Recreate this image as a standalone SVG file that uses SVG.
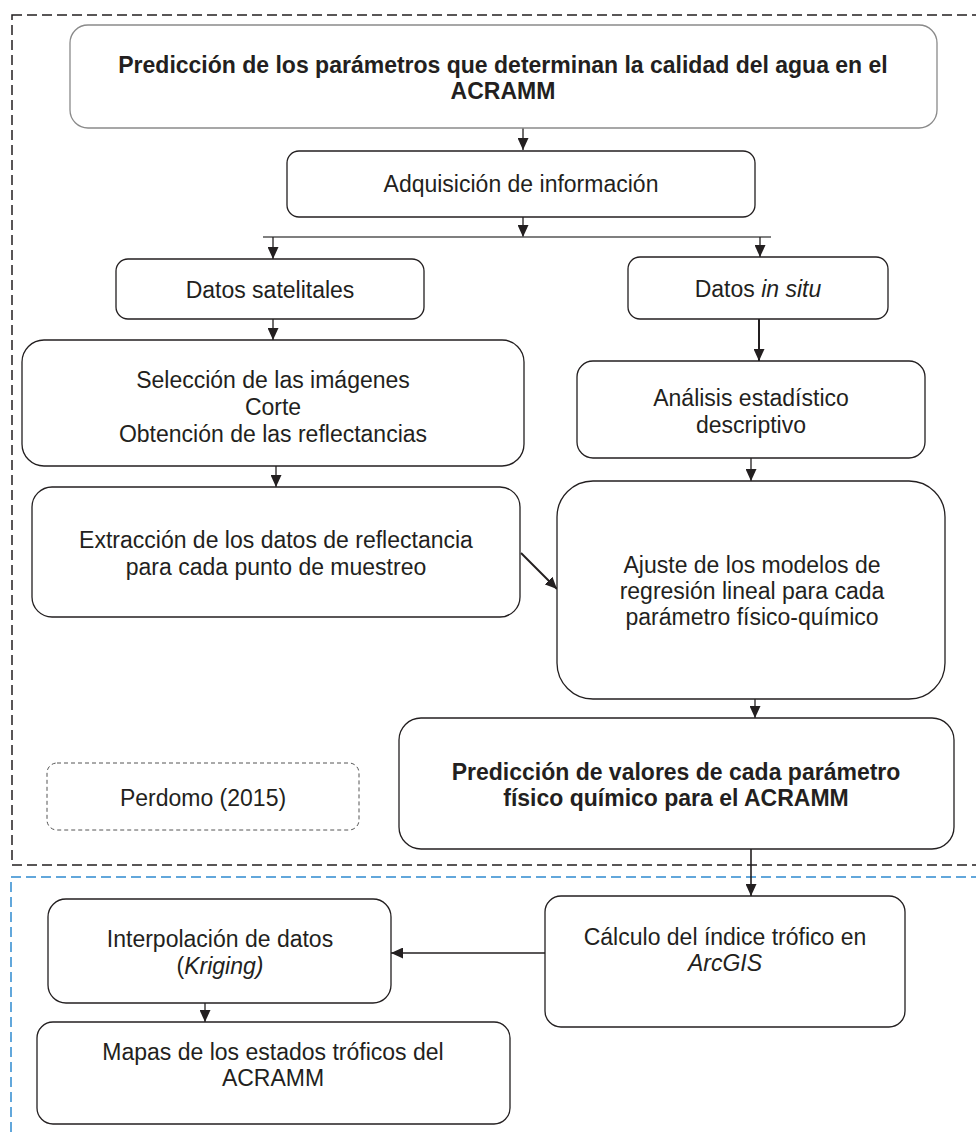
<svg xmlns="http://www.w3.org/2000/svg" width="976" height="1137" viewBox="0 0 976 1137">
<defs>
<style>
.bx{fill:#fff;stroke:#231f20;stroke-width:1.3}
.t{font-family:"Liberation Sans",Arial,sans-serif;font-size:23px;fill:#231f20;text-anchor:middle}
.b{font-weight:bold}
.c{fill:none;stroke:#231f20;stroke-width:1.3}
</style>
<marker id="ah" markerUnits="userSpaceOnUse" markerWidth="12" markerHeight="11" refX="12" refY="5.5" orient="auto">
<path d="M0,0 L12,5.5 L0,11 z" fill="#231f20"/>
</marker>
</defs>
<rect width="976" height="1137" fill="#fff"/>
<g id="containers">
<rect x="12" y="15" width="990" height="850" fill="none" stroke="#231f20" stroke-width="1.5" stroke-dasharray="10,5"/>
<rect x="11" y="877" width="990" height="300" fill="none" stroke="#2f8bd0" stroke-width="1.5" stroke-dasharray="10,5"/>
</g>
<g id="connectors">
<path class="c" d="M523,128 L523,150" marker-end="url(#ah)"/>
<path class="c" d="M523,217 L523,237" marker-end="url(#ah)"/>
<path d="M263,237 L771,237" fill="none" stroke="#555" stroke-width="1.5"/>
<path class="c" d="M273,237 L273,259" marker-end="url(#ah)"/>
<path class="c" d="M760,237 L760,257" marker-end="url(#ah)"/>
<path class="c" d="M273,319 L273,340" marker-end="url(#ah)"/>
<path class="c" d="M759,319 L759,361" style="stroke-width:2" marker-end="url(#ah)"/>
<path class="c" d="M276,466 L276,487" marker-end="url(#ah)"/>
<path class="c" d="M751,458 L751,481" marker-end="url(#ah)"/>
<path class="c" d="M521,553 L557,589" style="stroke-width:2" marker-end="url(#ah)"/>
<path class="c" d="M755,699 L755,718" marker-end="url(#ah)"/>
<path class="c" d="M751,849 L751,896" style="stroke-width:1.6" marker-end="url(#ah)"/>
<path class="c" d="M545,953 L391,953" marker-end="url(#ah)"/>
<path class="c" d="M205,1003 L205,1022" marker-end="url(#ah)"/>
</g>
<g id="n-top">
<rect class="bx" x="70" y="25" width="867" height="103" rx="18" style="stroke:#8a8a8a"/>
<text class="t b" x="503" y="73">Predicción de los parámetros que determinan la calidad del agua en el</text>
<text class="t b" x="503" y="99">ACRAMM</text>
</g>
<g id="n-adq">
<rect class="bx" x="287" y="151" width="468" height="66" rx="12"/>
<text class="t" x="521" y="192">Adquisición de información</text>
</g>
<g id="n-sat">
<rect class="bx" x="116" y="259" width="308" height="60" rx="12"/>
<text class="t" x="270" y="298">Datos satelitales</text>
</g>
<g id="n-insitu">
<rect class="bx" x="628" y="257" width="260" height="62" rx="12"/>
<text class="t" x="758" y="297">Datos <tspan font-style="italic">in situ</tspan></text>
</g>
<g id="n-sel">
<rect class="bx" x="22" y="340" width="502" height="126" rx="22"/>
<text class="t" x="273" y="388">Selección de las imágenes</text>
<text class="t" x="273" y="415">Corte</text>
<text class="t" x="273" y="442">Obtención de las reflectancias</text>
</g>
<g id="n-ana">
<rect class="bx" x="577" y="361" width="348" height="97" rx="16"/>
<text class="t" x="751" y="406">Análisis estadístico</text>
<text class="t" x="751" y="433">descriptivo</text>
</g>
<g id="n-ext">
<rect class="bx" x="32" y="487" width="488" height="130" rx="20"/>
<text class="t" x="276" y="548">Extracción de los datos de reflectancia</text>
<text class="t" x="276" y="575">para cada punto de muestreo</text>
</g>
<g id="n-aju">
<rect class="bx" x="557" y="481" width="388" height="218" rx="36"/>
<text class="t" x="752" y="573">Ajuste de los modelos de</text>
<text class="t" x="752" y="599">regresión lineal para cada</text>
<text class="t" x="752" y="625">parámetro físico-químico</text>
</g>
<g id="n-pred">
<rect class="bx" x="399" y="718" width="555" height="131" rx="22"/>
<text class="t b" x="676" y="780">Predicción de valores de cada parámetro</text>
<text class="t b" x="676" y="806">físico químico para el ACRAMM</text>
</g>
<g id="n-perdomo">
<rect x="47" y="763" width="312" height="67" rx="10" fill="#fff" stroke="#555" stroke-width="1" stroke-dasharray="4,3"/>
<text class="t" x="203" y="806">Perdomo (2015)</text>
</g>
<g id="n-calc">
<rect class="bx" x="545" y="896" width="360" height="131" rx="16"/>
<text class="t" x="725" y="945">Cálculo del índice trófico en</text>
<text class="t" x="725" y="971" font-style="italic">ArcGIS</text>
</g>
<g id="n-interp">
<rect class="bx" x="48" y="899" width="343" height="104" rx="18"/>
<text class="t" x="220" y="947">Interpolación de datos</text>
<text class="t" x="220" y="974">(<tspan font-style="italic">Kriging)</tspan></text>
</g>
<g id="n-mapas">
<rect class="bx" x="37" y="1022" width="473" height="102" rx="16"/>
<text class="t" x="273" y="1060">Mapas de los estados tróficos del</text>
<text class="t" x="273" y="1086">ACRAMM</text>
</g>
</svg>
